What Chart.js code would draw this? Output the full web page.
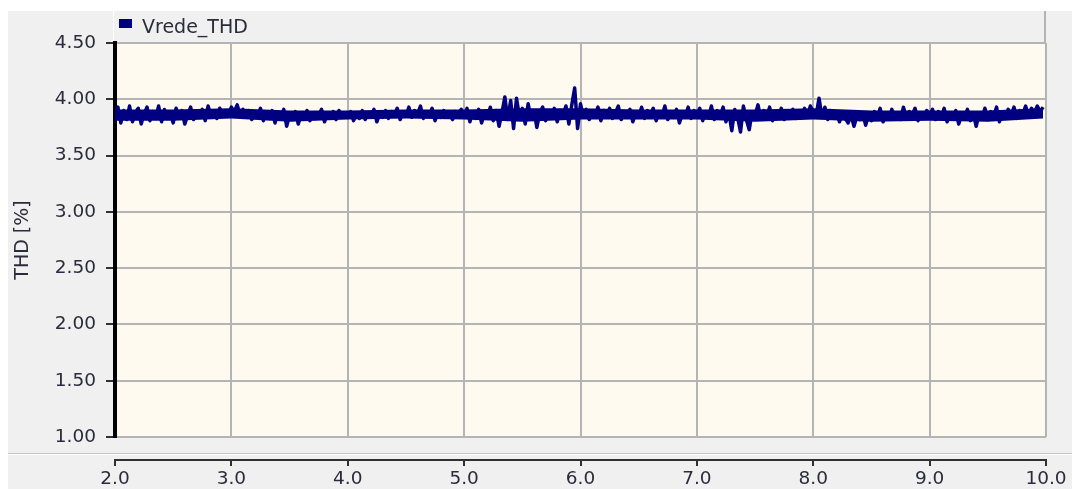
<!DOCTYPE html>
<html>
<head>
<meta charset="utf-8">
<script src="https://cdn.jsdelivr.net/npm/chart.js@4/dist/chart.umd.min.js"></script>
<style>
  html, body { margin: 0; padding: 0; background: #ffffff; }
  #wrap { width: 1072px; height: 489px; }
</style>
</head>
<body>
<div id="wrap"><canvas id="thdChart" width="1072" height="489"></canvas></div>
<script>
// Vrede_THD samples (one every 0.025 on the x axis)
var seriesName = 'Vrede_THD';
var xStart = 2.0;
var xStep = 0.025;
var thd2 = [3.85,3.93,3.79,3.90,3.82,3.94,3.80,3.88,3.92,3.78,3.87,3.93,3.81,3.89,3.84,3.94,3.80,3.91,3.83,3.88,
            3.79,3.92,3.85,3.90,3.78,3.86,3.93,3.82,3.89,3.84,3.91,3.81,3.94,3.85,3.88,3.83,3.92,3.86,3.90,3.87];
var thd3 = [3.93,3.89,3.95,3.86,3.91,3.84,3.90,3.82,3.88,3.85,3.92,3.81,3.87,3.83,3.90,3.79,3.88,3.84,3.91,3.76,
            3.86,3.82,3.89,3.78,3.87,3.84,3.90,3.81,3.88,3.83,3.86,3.91,3.80,3.87,3.84,3.89,3.82,3.90,3.85,3.88];
var thd4 = [3.84,3.89,3.81,3.87,3.83,3.90,3.82,3.88,3.85,3.91,3.80,3.87,3.84,3.90,3.83,3.89,3.86,3.92,3.82,3.88,
            3.85,3.93,3.84,3.90,3.87,3.94,3.83,3.89,3.86,3.92,3.81,3.88,3.84,3.90,3.85,3.87,3.82,3.89,3.86,3.91];
var thd5 = [3.85,3.92,3.80,3.89,3.83,3.91,3.79,3.88,3.84,3.93,3.81,3.90,3.76,3.88,4.02,3.82,3.99,3.74,4.01,3.85,
            3.92,3.78,3.96,3.83,3.90,3.75,3.88,3.93,3.81,3.89,3.84,3.92,3.80,3.90,3.86,3.94,3.78,3.95,4.10,3.74];
var thd6 = [3.96,3.84,3.91,3.82,3.89,3.86,3.93,3.81,3.90,3.85,3.92,3.83,3.88,3.94,3.82,3.89,3.86,3.91,3.80,3.88,
            3.84,3.93,3.83,3.90,3.86,3.92,3.81,3.89,3.85,3.94,3.82,3.88,3.84,3.91,3.79,3.87,3.85,3.93,3.83,3.90];
var thd7 = [3.86,3.92,3.81,3.89,3.84,3.94,3.82,3.90,3.85,3.93,3.80,3.88,3.72,3.91,3.84,3.71,3.94,3.82,3.73,3.89,
            3.86,3.95,3.83,3.90,3.85,3.93,3.81,3.88,3.84,3.92,3.82,3.89,3.86,3.91,3.83,3.88,3.85,3.92,3.84,3.94];
var thd8 = [3.89,3.86,4.01,3.84,3.93,3.82,3.90,3.85,3.88,3.80,3.87,3.83,3.79,3.86,3.76,3.85,3.82,3.88,3.77,3.86,
            3.81,3.89,3.84,3.92,3.80,3.87,3.83,3.91,3.85,3.88,3.82,3.93,3.84,3.89,3.86,3.92,3.81,3.88,3.85,3.90];
var thd9 = [3.86,3.91,3.82,3.89,3.84,3.92,3.80,3.87,3.83,3.90,3.78,3.86,3.84,3.91,3.81,3.88,3.76,3.87,3.83,3.92,
            3.82,3.89,3.85,3.93,3.80,3.88,3.84,3.91,3.86,3.93,3.83,3.90,3.87,3.94,3.85,3.92,3.88,3.94,3.89,3.93];

// solid core of the noise band
var coreX     = [2.0, 2.5, 3.0, 3.5, 4.0, 4.5, 5.0, 5.5, 6.0, 6.5, 7.0, 7.5, 8.0, 8.5, 9.0, 9.5, 9.975];
var coreUpper = [3.91,3.91,3.92,3.90,3.90,3.91,3.91,3.92,3.92,3.91,3.91,3.91,3.92,3.90,3.90,3.90,3.92];
var coreLower = [3.81,3.81,3.83,3.80,3.82,3.83,3.82,3.80,3.82,3.82,3.82,3.80,3.82,3.80,3.81,3.80,3.83];

var xTicks = [2, 3, 4, 5, 6, 7, 8, 9, 10];
var yTicks = [1.0, 1.5, 2.0, 2.5, 3.0, 3.5, 4.0, 4.5];

var thdValues = thd2.concat(thd3, thd4, thd5, thd6, thd7, thd8, thd9);
var points = thdValues.map(function (v, i) {
    return { x: xStart + i * xStep, y: v };
});
var upperPts = coreX.map(function (x, i) { return { x: x, y: coreUpper[i] }; });
var lowerPts = coreX.map(function (x, i) { return { x: x, y: coreLower[i] }; });

var FONT = 'DejaVu Sans';
var TEXT = '#2b2b3c';
var NAVY = '#000080';

// panel, legend strip, separated x axis
var panelPlugin = {
    id: 'panel',
    beforeDraw: function (chart) {
        var c = chart.ctx, a = chart.chartArea;
        c.save();
        c.fillStyle = '#ffffff';
        c.fillRect(0, 0, chart.width, chart.height);
        c.fillStyle = '#f0f0f0';
        c.fillRect(8, 11, chart.width - 8, chart.height - 11);
        // legend strip border
        c.fillStyle = '#ffffff';
        c.fillRect(a.left - 2, 11, 1, a.top - 11);
        c.fillStyle = '#b4b4b4';
        c.fillRect(a.right - 2, 11, 2, a.top - 11);
        // plot background
        c.fillStyle = '#fffaf0';
        c.fillRect(a.left, a.top, a.right - a.left, a.bottom - a.top);
        c.restore();
    },
    afterDraw: function (chart) {
        var c = chart.ctx, a = chart.chartArea;
        var xs = chart.scales.x;
        c.save();
        // legend
        c.fillStyle = NAVY;
        c.fillRect(a.left + 4, 19, 13, 9);
        c.fillStyle = TEXT;
        c.font = '19px "' + FONT + '"';
        c.textBaseline = 'alphabetic';
        c.fillText(chart.data.datasets[0].label, a.left + 27, 32.5);
        // separator under the plot
        c.fillStyle = '#c4c4c4';
        c.fillRect(8, 453, chart.width - 8, 1);
        c.fillStyle = '#ffffff';
        c.fillRect(8, 454, chart.width - 8, 1);
        // x axis line and tick marks
        c.fillStyle = '#303030';
        c.fillRect(a.left - 1, 459, a.right - a.left + 1, 2);
        xs.ticks.forEach(function (t) {
            var px = Math.round(xs.getPixelForValue(t.value));
            c.fillRect(px - 1, 459, 2, 7);
        });
        c.restore();
    }
};

new Chart(document.getElementById('thdChart').getContext('2d'), {
    type: 'line',
    data: {
        datasets: [{
            label: seriesName,
            data: points,
            borderColor: NAVY,
            backgroundColor: NAVY,
            borderWidth: 3.5,
            borderJoinStyle: 'round',
            pointRadius: 0,
            tension: 0,
            fill: false,
            order: 0
        }, {
            label: 'core_low',
            data: lowerPts,
            borderWidth: 0,
            pointRadius: 0,
            fill: false,
            order: 1
        }, {
            label: 'core_high',
            data: upperPts,
            borderWidth: 0,
            pointRadius: 0,
            backgroundColor: NAVY,
            fill: '-1',
            order: 1
        }]
    },
    options: {
        responsive: false,
        animation: false,
        layout: { padding: { left: 8, top: 43, right: 26, bottom: 0 } },
        plugins: {
            legend: { display: false },
            tooltip: { enabled: false }
        },
        scales: {
            x: {
                type: 'linear',
                min: 2,
                max: 10,
                afterFit: function (s) {
                    s.height = 52;
                    s.paddingLeft = 0;
                    s.paddingRight = 0;
                },
                afterBuildTicks: function (s) {
                    s.ticks = xTicks.map(function (v) { return { value: v }; });
                },
                grid: { color: '#b4b4b4', lineWidth: 2, drawTicks: false },
                border: { display: false },
                ticks: {
                    padding: 31,
                    color: TEXT,
                    font: { family: FONT, size: 18.5 },
                    maxRotation: 0,
                    callback: function (v) { return v.toFixed(1); }
                }
            },
            y: {
                min: 1,
                max: 4.5,
                afterFit: function (s) {
                    s.width = 107;
                    s.paddingTop = 0;
                    s.paddingBottom = 0;
                },
                afterBuildTicks: function (s) {
                    s.ticks = yTicks.map(function (v) { return { value: v }; });
                },
                grid: { color: '#b4b4b4', lineWidth: 2, tickLength: 9, tickColor: '#303030' },
                border: { color: '#000000', width: 4 },
                ticks: {
                    padding: 10,
                    color: TEXT,
                    font: { family: FONT, size: 18.5 },
                    callback: function (v) { return v.toFixed(2); }
                },
                title: {
                    display: true,
                    text: 'THD [%]',
                    color: TEXT,
                    font: { family: FONT, size: 19 },
                    padding: { top: 4, bottom: 0 }
                }
            }
        }
    },
    plugins: [panelPlugin]
});
</script>
</body>
</html>
